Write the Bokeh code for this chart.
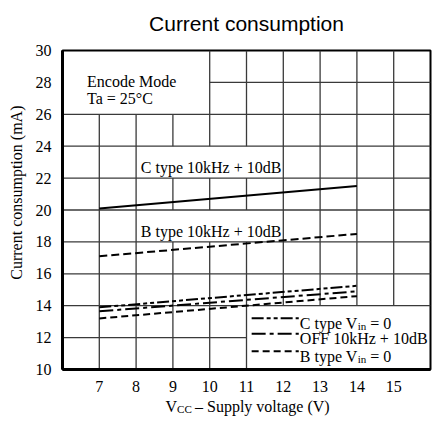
import numpy as np
from bokeh.plotting import figure
from bokeh.layouts import column, row
from bokeh.models import FixedTicker, Range1d
from bokeh.core.properties import value
from bokeh.embed import file_html
from bokeh.resources import INLINE

# ---- data ----
supply_v = [7, 14]
c_type_10k = [20.1, 21.5]
b_type_10k = [17.1, 18.5]
c_type_vin0 = [13.9, 15.25]
off_10k = [13.65, 14.9]
b_type_vin0 = [13.2, 14.6]
x_ticks = [7, 8, 9, 10, 11, 12, 13, 14, 15]
y_ticks = [10, 12, 14, 16, 18, 20, 22, 24, 26, 28, 30]

SERIF = "Liberation Serif"


def txt(fig, x, y, s, size="16px", xo=0, yo=0, align="left", font=SERIF, angle=0.0,
        baseline="alphabetic"):
    fig.text([x], [y], text=[s], text_font=value(font), text_font_size=size,
             text_color="black", text_baseline=baseline, text_align=align,
             x_offset=xo, y_offset=yo, angle=angle)


def strip(w, h):
    f = figure(width=w, height=h, output_backend="svg", toolbar_location=None,
               x_range=Range1d(0, w), y_range=Range1d(0, h),
               x_axis_type=None, y_axis_type=None, min_border=0)
    f.outline_line_color = None
    f.xgrid.visible = False
    f.ygrid.visible = False
    f.background_fill_color = "white"
    f.border_fill_color = "white"
    return f


# ---- main plot ----
p = figure(width=402, height=358, output_backend="svg", toolbar_location=None,
           x_range=Range1d(6, 16), y_range=Range1d(10, 30),
           min_border_left=32, min_border_right=2, min_border_top=14, min_border_bottom=25)
p.background_fill_color = "white"
p.border_fill_color = "white"
p.outline_line_color = "black"
p.outline_line_width = 2
p.xgrid.visible = False
p.ygrid.visible = False

for ax, ticks in ((p.xaxis[0], x_ticks), (p.yaxis[0], y_ticks)):
    ax.ticker = FixedTicker(ticks=ticks)
    ax.axis_line_width = 3
    ax.axis_line_color = "black"
    ax.major_tick_line_color = None
    ax.minor_tick_line_color = None
    ax.major_label_text_font = SERIF
    ax.major_label_text_font_size = "16px"
    ax.major_label_text_color = "black"
    ax.major_label_standoff = 5

# grid with gaps where the text boxes sit
boxes = [(6, 10, 26, 30), (8, 12, 22, 24), (8, 12, 18, 20), (11, 16, 10, 14)]


def cut(lo, hi, holes):
    segs = [(lo, hi)]
    for a, b in holes:
        new = []
        for s, e in segs:
            if b <= s or a >= e:
                new.append((s, e))
            else:
                if a > s:
                    new.append((s, a))
                if b < e:
                    new.append((b, e))
        segs = new
    return segs


x0s, y0s, x1s, y1s = [], [], [], []
for x in x_ticks:
    holes = [(b[2], b[3]) for b in boxes if b[0] < x < b[1]]
    for s, e in cut(10, 30, holes):
        x0s.append(x); x1s.append(x); y0s.append(s); y1s.append(e)
for y in y_ticks[1:-1]:
    holes = [(b[0], b[1]) for b in boxes if b[2] < y < b[3]]
    for s, e in cut(6, 16, holes):
        y0s.append(y); y1s.append(y); x0s.append(s); x1s.append(e)
p.segment(x0s, y0s, x1s, y1s, line_color="#3a3a3a", line_width=1.3)

# curves
p.line(supply_v, c_type_10k, line_color="black", line_width=2)
p.line(supply_v, b_type_10k, line_color="black", line_width=2, line_dash="8 4")
p.line(supply_v, c_type_vin0, line_color="black", line_width=2, line_dash="12 3 4 3 4 3")
p.line(supply_v, off_10k, line_color="black", line_width=2, line_dash="14 4 4 4")
p.line(supply_v, b_type_vin0, line_color="black", line_width=2, line_dash="7 4")

# in-plot texts
txt(p, 6.667, 28.06, "Encode Mode")
txt(p, 6.667, 26.97, "Ta = 25°C")
txt(p, 8.127, 22.68, "C type 10kHz + 10dB")
txt(p, 8.127, 18.67, "B type 10kHz + 10dB")

# legend
leg_y_line = [13.22, 12.24, 11.15]
leg_y_text = [12.90, 11.92, 10.83]
dashes = ["12 3 4 3 4 3", "14 4 4 4", "7 4"]
for yl, d in zip(leg_y_line, dashes):
    p.line([11.14, 12.42], [yl, yl], line_color="black", line_width=2, line_dash=d)
lx = 12.45
txt(p, lx, leg_y_text[0], "C type V")
txt(p, lx, leg_y_text[0], "in", size="11px", xo=57.8, yo=3)
txt(p, lx, leg_y_text[0], "= 0", xo=70.4)
txt(p, lx, leg_y_text[1], "OFF 10kHz + 10dB")
txt(p, lx, leg_y_text[2], "B type V")
txt(p, lx, leg_y_text[2], "in", size="11px", xo=57.8, yo=3)
txt(p, lx, leg_y_text[2], "= 0", xo=70.4)

# ---- title strip ----
top = strip(432, 36)
txt(top, 246, 13, "Current consumption", size="21px", align="center", font="Liberation Sans")

# ---- y-axis label strip ----
left = strip(30, 358)
txt(left, 16, 198.5, "Current consumption (mA)", align="center", angle=np.pi / 2,
    baseline="middle")

# ---- x-axis label strip ----
cap = strip(432, 27)
xl, yl = 165.0, 15
txt(cap, xl, yl, "V")
txt(cap, xl, yl, "CC", size="11px", xo=11.6, yo=2)
txt(cap, xl, yl, "– Supply voltage (V)", xo=29.5)

layout = column(top, row(left, p, spacing=0), cap, spacing=0)
open("out.html", "w").write(file_html(layout, INLINE))
